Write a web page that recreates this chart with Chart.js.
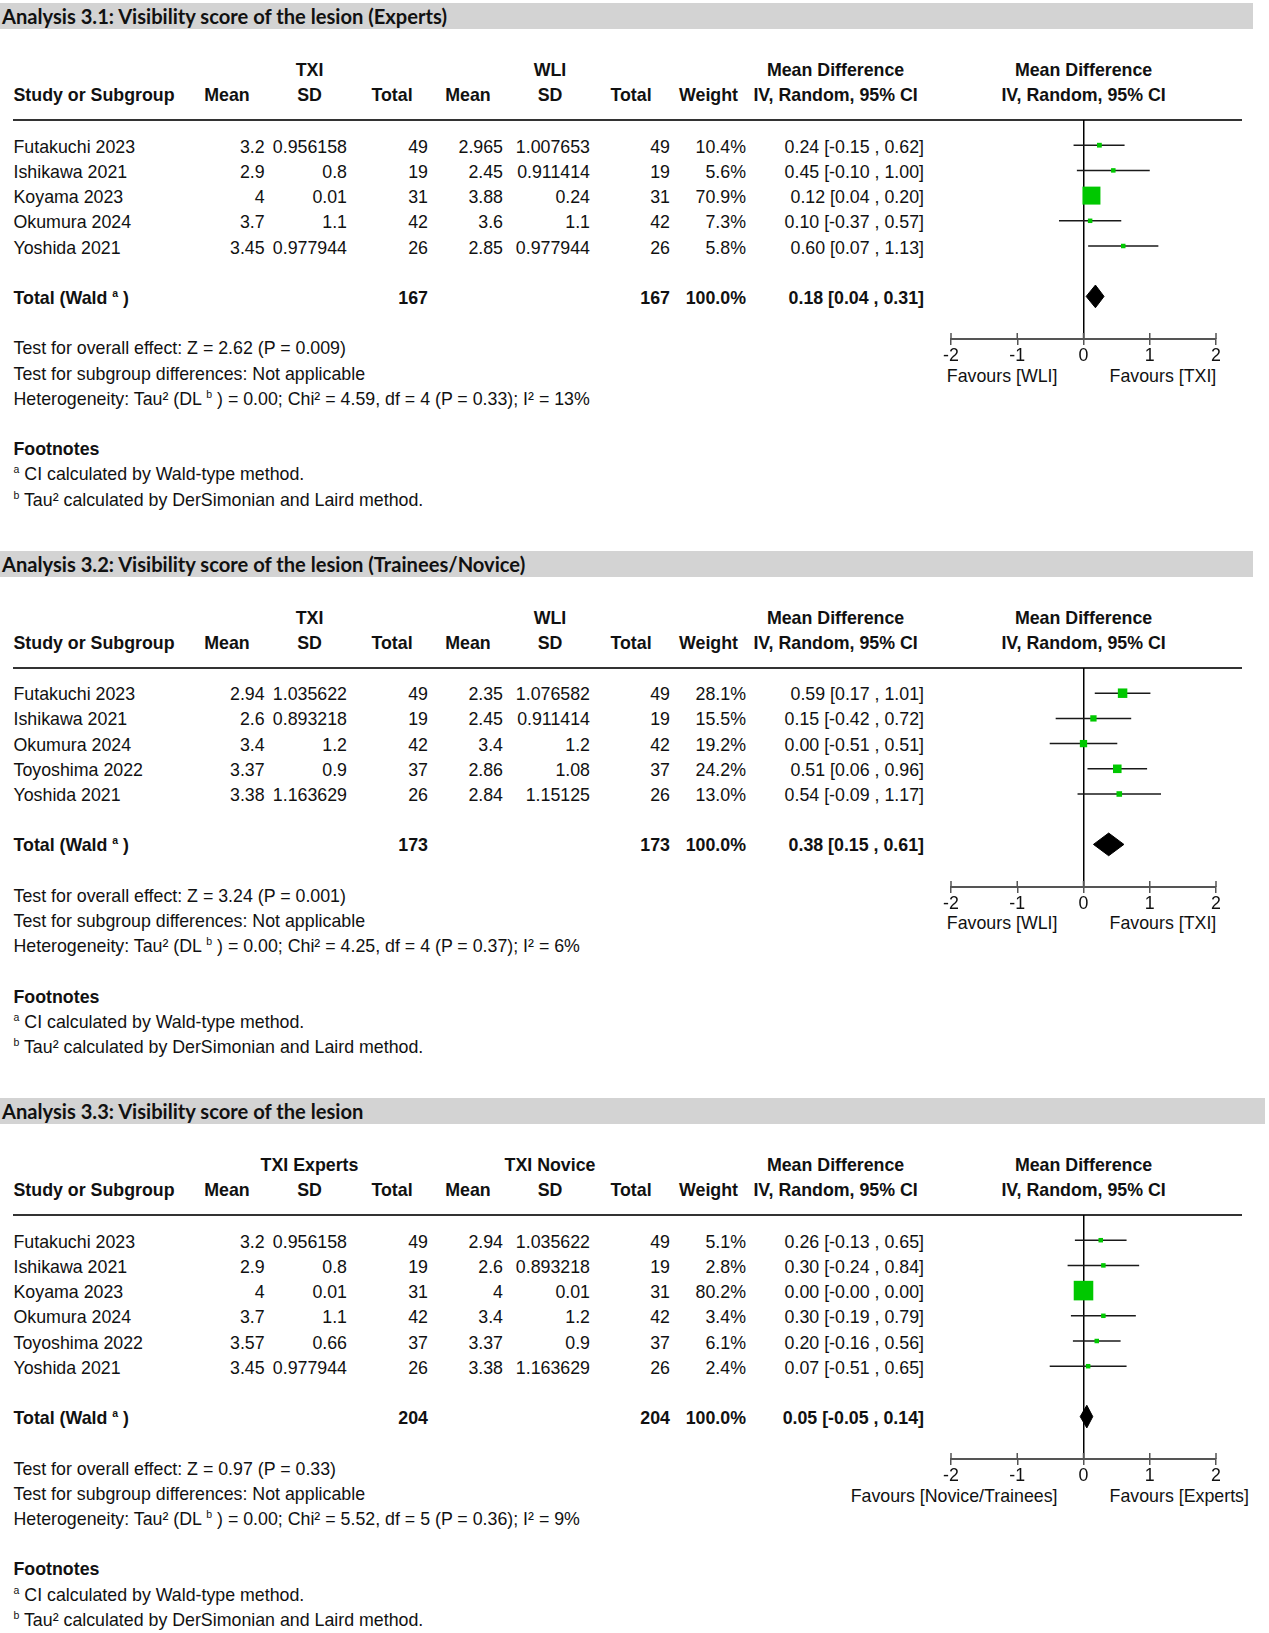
<!DOCTYPE html>
<html>
<head>
<meta charset="utf-8">
<script src="https://cdn.jsdelivr.net/npm/chart.js@4.4.1/dist/chart.umd.min.js"></script>
<style>
body { margin: 0; background: #fff; width: 1269px; height: 1633px; position: relative; overflow: hidden;
       font-family: "Liberation Sans", Arial, sans-serif; font-size: 17.8px; color: #111; }
.t { position: absolute; white-space: nowrap; line-height: 20px; height: 20px; }
.b { font-weight: bold; }
.bar { position: absolute; left: 0; height: 26px; background: #d3d3d3; }
.title { position: absolute; left: 2px; font-family: Lato, sans-serif; font-weight: bold; font-size: 20.5px;
         line-height: 26px; white-space: nowrap; transform-origin: left center; color: #111; }
.rule { position: absolute; left: 13px; width: 1229px; height: 2px; background: #333; }
sup { font-size: 10.5px; vertical-align: 7px; line-height: 0; }
canvas { position: absolute; }
</style>
</head>
<body>
<script>
// Analysis 3.1: experts, TXI vs WLI
var studies1 = ['Futakuchi 2023', 'Ishikawa 2021', 'Koyama 2023', 'Okumura 2024', 'Yoshida 2021'];
var txiMean1 = [3.2, 2.9, 4, 3.7, 3.45];
var txiSD1 = [0.956158, 0.8, 0.01, 1.1, 0.977944];
var txiN1 = [49, 19, 31, 42, 26];
var wliMean1 = [2.965, 2.45, 3.88, 3.6, 2.85];
var wliSD1 = [1.007653, 0.911414, 0.24, 1.1, 0.977944];
var wliN1 = [49, 19, 31, 42, 26];
var weight1 = [10.4, 5.6, 70.9, 7.3, 5.8];
var md1 = [0.24, 0.45, 0.12, 0.10, 0.60];
var lo1 = [-0.15, -0.10, 0.04, -0.37, 0.07];
var hi1 = [0.62, 1.00, 0.20, 0.57, 1.13];
var total1 = [167, 167, 0.18, 0.04, 0.31];

// Analysis 3.2: trainees/novice, TXI vs WLI
var studies2 = ['Futakuchi 2023', 'Ishikawa 2021', 'Okumura 2024', 'Toyoshima 2022', 'Yoshida 2021'];
var txiMean2 = [2.94, 2.6, 3.4, 3.37, 3.38];
var txiSD2 = [1.035622, 0.893218, 1.2, 0.9, 1.163629];
var txiN2 = [49, 19, 42, 37, 26];
var wliMean2 = [2.35, 2.45, 3.4, 2.86, 2.84];
var wliSD2 = [1.076582, 0.911414, 1.2, 1.08, 1.15125];
var wliN2 = [49, 19, 42, 37, 26];
var weight2 = [28.1, 15.5, 19.2, 24.2, 13.0];
var md2 = [0.59, 0.15, 0.00, 0.51, 0.54];
var lo2 = [0.17, -0.42, -0.51, 0.06, -0.09];
var hi2 = [1.01, 0.72, 0.51, 0.96, 1.17];
var total2 = [173, 173, 0.38, 0.15, 0.61];

// Analysis 3.3: TXI experts vs TXI novice
var studies3 = ['Futakuchi 2023', 'Ishikawa 2021', 'Koyama 2023', 'Okumura 2024', 'Toyoshima 2022', 'Yoshida 2021'];
var expMean3 = [3.2, 2.9, 4, 3.7, 3.57, 3.45];
var expSD3 = [0.956158, 0.8, 0.01, 1.1, 0.66, 0.977944];
var expN3 = [49, 19, 31, 42, 37, 26];
var novMean3 = [2.94, 2.6, 4, 3.4, 3.37, 3.38];
var novSD3 = [1.035622, 0.893218, 0.01, 1.2, 0.9, 1.163629];
var novN3 = [49, 19, 31, 42, 37, 26];
var weight3 = [5.1, 2.8, 80.2, 3.4, 6.1, 2.4];
var md3 = [0.26, 0.30, 0.00, 0.30, 0.20, 0.07];
var lo3 = [-0.13, -0.24, -0, -0.19, -0.16, -0.51];
var hi3 = [0.65, 0.84, 0.00, 0.79, 0.56, 0.65];
var total3 = [204, 204, 0.05, -0.05, 0.14];

var xTicks = [-2, -1, 0, 1, 2];

var ROW = 25.2;

function txt(top, x, y, html, align, bold) {
    var d = document.createElement('div');
    d.className = 't' + (bold ? ' b' : '');
    d.innerHTML = html;
    d.style.top = (top + y - 8.5) + 'px';
    if (align === 'right') {
        d.style.left = (x - 400) + 'px'; d.style.width = '400px'; d.style.textAlign = 'right';
    } else if (align === 'center') {
        d.style.left = (x - 200) + 'px'; d.style.width = '400px'; d.style.textAlign = 'center';
    } else {
        d.style.left = x + 'px';
    }
    document.body.appendChild(d);
}

function fmt(v) {
    return (v < 0 || Object.is(v, -0) ? '-' : '') + Math.abs(v).toFixed(2);
}
function ciText(m, l, h) {
    return fmt(m) + ' [' + fmt(l) + ' , ' + fmt(h) + ']';
}

// small upward ticks on the x axis
var upTicks = {
    id: 'upTicks',
    afterDraw: function(chart) {
        var sx = chart.scales.x, y0 = chart.chartArea.bottom, c = chart.ctx;
        c.save();
        c.strokeStyle = '#555';
        c.lineWidth = 1.5;
        sx.ticks.forEach(function(t) {
            var px = sx.getPixelForValue(t.value);
            c.beginPath(); c.moveTo(px, y0); c.lineTo(px, y0 - 6); c.stroke();
        });
        c.restore();
    }
};

var titles = [];

function panel(p) {
    var top = p.top, n = p.studies.length;

    var bar = document.createElement('div');
    bar.className = 'bar';
    bar.style.top = (top + 3) + 'px';
    bar.style.width = p.barWidth + 'px';
    document.body.appendChild(bar);
    var ti = document.createElement('div');
    ti.className = 'title';
    ti.style.top = (top + 3) + 'px';
    ti.textContent = p.title;
    document.body.appendChild(ti);
    titles.push(ti);

    // headers
    txt(top, 309.5, 68.8, p.group1, 'center', true);
    txt(top, 550, 68.8, p.group2, 'center', true);
    txt(top, 835.6, 68.8, 'Mean Difference', 'center', true);
    txt(top, 1083.6, 68.8, 'Mean Difference', 'center', true);
    txt(top, 13.5, 93.8, 'Study or Subgroup', 'left', true);
    txt(top, 227, 93.8, 'Mean', 'center', true);
    txt(top, 309.5, 93.8, 'SD', 'center', true);
    txt(top, 392, 93.8, 'Total', 'center', true);
    txt(top, 468, 93.8, 'Mean', 'center', true);
    txt(top, 550, 93.8, 'SD', 'center', true);
    txt(top, 631, 93.8, 'Total', 'center', true);
    txt(top, 708.5, 93.8, 'Weight', 'center', true);
    txt(top, 835.6, 93.8, 'IV, Random, 95% CI', 'center', true);
    txt(top, 1083.6, 93.8, 'IV, Random, 95% CI', 'center', true);

    var rule = document.createElement('div');
    rule.className = 'rule';
    rule.style.top = (top + 119) + 'px';
    document.body.appendChild(rule);

    function rowY(i) { return 145.2 + i * ROW; }

    for (var i = 0; i < n; i++) {
        var y = rowY(i);
        txt(top, 13.5, y, p.studies[i], 'left');
        txt(top, 264.6, y, String(p.m1[i]), 'right');
        txt(top, 347, y, String(p.s1[i]), 'right');
        txt(top, 428, y, String(p.n1[i]), 'right');
        txt(top, 503, y, String(p.m2[i]), 'right');
        txt(top, 590, y, String(p.s2[i]), 'right');
        txt(top, 670, y, String(p.n2[i]), 'right');
        txt(top, 746, y, p.weight[i].toFixed(1) + '%', 'right');
        txt(top, 924, y, ciText(p.md[i], p.lo[i], p.hi[i]), 'right');
    }
    var yt = rowY(n + 1);
    txt(top, 13.5, yt, 'Total (Wald <sup>a</sup> )', 'left', true);
    txt(top, 428, yt, String(p.total[0]), 'right', true);
    txt(top, 670, yt, String(p.total[1]), 'right', true);
    txt(top, 746, yt, '100.0%', 'right', true);
    txt(top, 924, yt, ciText(p.total[2], p.total[3], p.total[4]), 'right', true);

    txt(top, 13.5, rowY(n + 3), p.tests[0], 'left');
    txt(top, 13.5, rowY(n + 4), 'Test for subgroup differences: Not applicable', 'left');
    txt(top, 13.5, rowY(n + 5), p.tests[1], 'left');
    txt(top, 13.5, rowY(n + 7), 'Footnotes', 'left', true);
    txt(top, 13.5, rowY(n + 8), '<sup>a</sup> CI calculated by Wald-type method.', 'left');
    txt(top, 13.5, rowY(n + 9), '<sup>b</sup> Tau² calculated by DerSimonian and Laird method.', 'left');

    // forest plot
    var areaH = Math.round((n + 3.7) * ROW);
    var axisH = 40;
    var yMax = -1 + areaH / ROW;
    var axisY = 120 + areaH;
    txt(top, 1057.5, axisY + 35, p.favours[0], 'right');
    txt(top, 1109.6, axisY + 35, p.favours[1], 'left');

    var cv = document.createElement('canvas');
    cv.width = 307;
    cv.height = areaH + axisH;
    cv.style.left = '930px';
    cv.style.top = (top + 120) + 'px';
    document.body.appendChild(cv);

    var sets = [];
    sets.push({
        type: 'scatter',
        data: p.md.map(function(v, i) { return { x: v, y: i }; }),
        pointStyle: 'rect',
        pointRadius: p.weight.map(function(w) { return Math.max(4.5, 0.95 * Math.pow(w, 0.69)) / Math.SQRT2; }),
        backgroundColor: '#00c800',
        borderWidth: 0,
        order: 0
    });
    for (var j = 0; j < n; j++) {
        sets.push({
            type: 'line',
            data: [{ x: p.lo[j], y: j }, { x: p.hi[j], y: j }],
            borderColor: '#1a1a1a',
            borderWidth: 1.5,
            pointRadius: 0,
            fill: false,
            order: 1
        });
    }
    var t = n + 1;
    sets.push({
        type: 'line',
        data: [
            { x: p.total[3], y: t }, { x: p.total[2], y: t - 0.45 },
            { x: p.total[4], y: t }, { x: p.total[2], y: t + 0.45 }, { x: p.total[3], y: t }
        ],
        borderColor: '#000',
        backgroundColor: '#000',
        borderWidth: 1,
        pointRadius: 0,
        fill: 'shape',
        order: 0
    });

    new Chart(cv.getContext('2d'), {
        type: 'scatter',
        data: { datasets: sets },
        options: {
            responsive: false,
            animation: false,
            events: [],
            layout: { autoPadding: false, padding: { left: 21, right: 21, top: 0, bottom: 0 } },
            plugins: { legend: { display: false }, tooltip: { enabled: false } },
            scales: {
                x: {
                    type: 'linear', min: xTicks[0], max: xTicks[xTicks.length - 1],
                    afterFit: function(s) { s.height = axisH; },
                    afterBuildTicks: function(s) { s.ticks = xTicks.map(function(v) { return { value: v }; }); },
                    ticks: { padding: 0, color: '#111', font: { family: 'Liberation Sans', size: 17.8 },
                             callback: function(v) { return String(v); } },
                    grid: {
                        drawOnChartArea: true,
                        color: function(c) { return c.tick && c.tick.value === 0 ? '#000' : 'rgba(0,0,0,0)'; },
                        lineWidth: 1.5,
                        tickColor: '#555',
                        tickLength: 6,
                        tickWidth: 1.5
                    },
                    border: { color: '#555', width: 2 }
                },
                y: { type: 'linear', display: false, min: -1, max: yMax, reverse: true }
            }
        },
        plugins: [upTicks]
    });
}

panel({
    top: 0, barWidth: 1253,
    title: 'Analysis 3.1: Visibility score of the lesion (Experts)',
    group1: 'TXI', group2: 'WLI',
    studies: studies1, m1: txiMean1, s1: txiSD1, n1: txiN1, m2: wliMean1, s2: wliSD1, n2: wliN1,
    weight: weight1, md: md1, lo: lo1, hi: hi1, total: total1,
    tests: ['Test for overall effect: Z = 2.62 (P = 0.009)',
            'Heterogeneity: Tau² (DL <sup>b</sup> ) = 0.00; Chi² = 4.59, df = 4 (P = 0.33); I² = 13%'],
    favours: ['Favours [WLI]', 'Favours [TXI]']
});

panel({
    top: 547.5, barWidth: 1253,
    title: 'Analysis 3.2: Visibility score of the lesion (Trainees/Novice)',
    group1: 'TXI', group2: 'WLI',
    studies: studies2, m1: txiMean2, s1: txiSD2, n1: txiN2, m2: wliMean2, s2: wliSD2, n2: wliN2,
    weight: weight2, md: md2, lo: lo2, hi: hi2, total: total2,
    tests: ['Test for overall effect: Z = 3.24 (P = 0.001)',
            'Heterogeneity: Tau² (DL <sup>b</sup> ) = 0.00; Chi² = 4.25, df = 4 (P = 0.37); I² = 6%'],
    favours: ['Favours [WLI]', 'Favours [TXI]']
});

panel({
    top: 1095, barWidth: 1265,
    title: 'Analysis 3.3: Visibility score of the lesion',
    group1: 'TXI Experts', group2: 'TXI Novice',
    studies: studies3, m1: expMean3, s1: expSD3, n1: expN3, m2: novMean3, s2: novSD3, n2: novN3,
    weight: weight3, md: md3, lo: lo3, hi: hi3, total: total3,
    tests: ['Test for overall effect: Z = 0.97 (P = 0.33)',
            'Heterogeneity: Tau² (DL <sup>b</sup> ) = 0.00; Chi² = 5.52, df = 5 (P = 0.36); I² = 9%'],
    favours: ['Favours [Novice/Trainees]', 'Favours [Experts]']
});

// squeeze the title font to the width seen in the picture
var sc = 445 / titles[0].getBoundingClientRect().width;
titles.forEach(function(el) { el.style.transform = 'scaleX(' + sc + ')'; });
</script>
</body>
</html>
